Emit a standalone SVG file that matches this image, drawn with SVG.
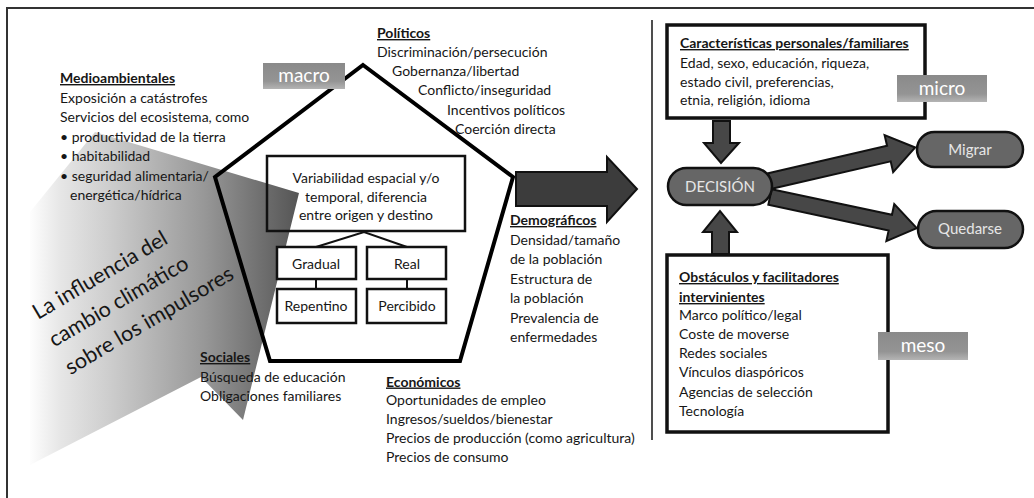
<svg xmlns="http://www.w3.org/2000/svg" width="1034" height="498" viewBox="0 0 1034 498">
<defs>
<linearGradient id="wedge" gradientUnits="userSpaceOnUse" x1="28" y1="0" x2="300" y2="0">
<stop offset="0" stop-color="#ffffff"/>
<stop offset="0.12" stop-color="#e6e6e6"/>
<stop offset="0.3" stop-color="#cdcdcd"/>
<stop offset="0.65" stop-color="#979797"/>
<stop offset="1" stop-color="#545454"/>
</linearGradient>
<linearGradient id="lbl" x1="0" y1="0" x2="0" y2="1">
<stop offset="0" stop-color="#8a8a8a"/>
<stop offset="0.7" stop-color="#949494"/>
<stop offset="1" stop-color="#b4b4b4"/>
</linearGradient>
<style>
text{font-family:Lato,"Open Sans","Liberation Sans",sans-serif;font-size:14px;fill:#161616}
.h{font-weight:bold;text-decoration:underline}
.c{text-anchor:middle}
.lb{fill:url(#lbl)}
.lt{fill:#ffffff;font-size:19px;text-anchor:middle}
.box{fill:#ffffff;stroke:#111;stroke-width:2.5}
.bigbox{fill:#ffffff;stroke:#111;stroke-width:3.5}
.pill{fill:#666666;stroke:#111;stroke-width:2.5}
.pt{fill:#e6e6e6;text-anchor:middle;font-size:15px}
.arr{fill:#474747;stroke:#111;stroke-width:2;stroke-linejoin:miter}
.ln{stroke:#111;stroke-width:2;fill:none}
.big{font-size:21.5px}
</style>
</defs>
<rect width="1034" height="498" fill="#ffffff"/>
<g id="frame"><polyline points="7,498 7,8 1034,8" fill="none" stroke="#333" stroke-width="2"/></g>

<g id="influencia">
<polygon points="95,132 299,193 243,420 201,377 30,465 30,212" fill="url(#wedge)"/>
<g transform="translate(38,320) rotate(-30.5)">
<text class="big" x="0" y="0">La influencia del</text>
<text class="big" x="0" y="32">cambio climático</text>
<text class="big" x="0" y="64">sobre los impulsores</text>
</g>
</g>

<g id="pentagono"><polygon points="363,65 513,177 460,361 270,361 215,177" fill="none" stroke="#000" stroke-width="4" stroke-linejoin="miter"/></g>

<g id="macro"><rect class="lb" x="263" y="63" width="82" height="26"/><text class="lt" x="304" y="82">macro</text></g>

<g id="variabilidad">
<rect x="267" y="156" width="198" height="75" fill="none" stroke="#111" stroke-width="2.5"/>
<text class="c" x="366" y="183">Variabilidad espacial y/o</text>
<text class="c" x="366" y="202">temporal, diferencia</text>
<text class="c" x="366" y="220">entre origen y destino</text>
</g>

<g id="conectores">
<polyline class="ln" points="316,247 364,232 407,247"/>
<line class="ln" x1="316" y1="279" x2="316" y2="289"/>
<line class="ln" x1="407" y1="279" x2="407" y2="289"/>
<polygon id="flecha-grande" class="arr" points="516,172 607,172 607,157 637,189 607,222 607,206 516,206" style="fill:#3c3c3c"/>
<polygon class="arr" points="713,121 730,121 730,143 739,143 721,163 704,143 713,143"/>
<polygon class="arr" points="712,254 729,254 729,232 737,232 720,211 703,232 712,232"/>
<g transform="translate(770,181) rotate(-13)"><polygon class="arr" points="0,-8 122,-8 122,-19 149,0 122,19 122,8 0,8"/></g>
<g transform="translate(770,197) rotate(12)"><polygon class="arr" points="0,-8 123,-8 123,-19 150,0 123,19 123,8 0,8"/></g>
</g>

<g id="gradual"><rect class="box" x="277" y="247" width="79" height="32"/><text class="c" x="316" y="269">Gradual</text></g>
<g id="real"><rect class="box" x="367" y="247" width="79" height="32"/><text class="c" x="407" y="269">Real</text></g>
<g id="repentino"><rect class="box" x="277" y="289" width="79" height="34"/><text class="c" x="316" y="311">Repentino</text></g>
<g id="percibido"><rect class="box" x="367" y="289" width="79" height="34"/><text class="c" x="407" y="311">Percibido</text></g>

<g id="medioambientales">
<text class="h" x="60" y="83">Medioambientales</text>
<text x="60" y="102.5">Exposición a catástrofes</text>
<text x="60" y="122">Servicios del ecosistema, como</text>
<text x="60" y="141.5">• productividad de la tierra</text>
<text x="60" y="161">• habitabilidad</text>
<text x="60" y="180.5">• seguridad alimentaria/</text>
<text x="70" y="200">energética/hídrica</text>
</g>

<g id="politicos">
<text class="h" x="377" y="38">Políticos</text>
<text x="377" y="57">Discriminación/persecución</text>
<text x="392" y="76">Gobernanza/libertad</text>
<text x="418" y="95">Conflicto/inseguridad</text>
<text x="447" y="115">Incentivos políticos</text>
<text x="455" y="134">Coerción directa</text>
</g>

<g id="demograficos">
<text class="h" x="510" y="225">Demográficos</text>
<text x="510" y="245">Densidad/tamaño</text>
<text x="510" y="264">de la población</text>
<text x="510" y="284">Estructura de</text>
<text x="510" y="303">la población</text>
<text x="510" y="323">Prevalencia de</text>
<text x="510" y="342">enfermedades</text>
</g>

<g id="sociales">
<text class="h" x="200" y="362">Sociales</text>
<text x="200" y="381.5">Búsqueda de educación</text>
<text x="200" y="401">Obligaciones familiares</text>
</g>

<g id="economicos">
<text class="h" x="386" y="386.5">Económicos</text>
<text x="386" y="405">Oportunidades de empleo</text>
<text x="386" y="424">Ingresos/sueldos/bienestar</text>
<text x="386" y="443">Precios de producción (como agricultura)</text>
<text x="386" y="462">Precios de consumo</text>
</g>

<g id="divisor"><line x1="652" y1="20" x2="652" y2="440" stroke="#222" stroke-width="1.6"/></g>

<g id="caracteristicas">
<rect class="bigbox" x="667" y="25" width="258" height="93"/>
<text class="h" x="680" y="48">Características personales/familiares</text>
<text x="680" y="68">Edad, sexo, educación, riqueza,</text>
<text x="680" y="87">estado civil, preferencias,</text>
<text x="680" y="105">etnia, religión, idioma</text>
</g>
<g id="micro"><rect class="lb" x="897" y="75" width="90" height="27"/><text class="lt" x="942" y="95">micro</text></g>

<g id="decision"><rect class="pill" x="668" y="168" width="104" height="37" rx="18.5"/><text class="pt" x="720" y="192">DECISIÓN</text></g>
<g id="migrar"><rect class="pill" x="917" y="132" width="106" height="35" rx="17.5"/><text class="pt" x="970" y="155">Migrar</text></g>
<g id="quedarse"><rect class="pill" x="918" y="211" width="105" height="37" rx="18.5"/><text class="pt" x="970" y="234">Quedarse</text></g>

<g id="obstaculos">
<rect class="bigbox" x="667" y="255" width="221" height="177"/>
<text class="h" x="679" y="282">Obstáculos y facilitadores</text>
<text class="h" x="679" y="302">intervinientes</text>
<text x="679" y="320">Marco político/legal</text>
<text x="679" y="339">Coste de moverse</text>
<text x="679" y="358">Redes sociales</text>
<text x="679" y="377">Vínculos diaspóricos</text>
<text x="679" y="397">Agencias de selección</text>
<text x="679" y="416">Tecnología</text>
</g>
<g id="meso"><rect class="lb" x="878" y="332" width="90" height="28"/><text class="lt" x="923" y="352">meso</text></g>
</svg>
